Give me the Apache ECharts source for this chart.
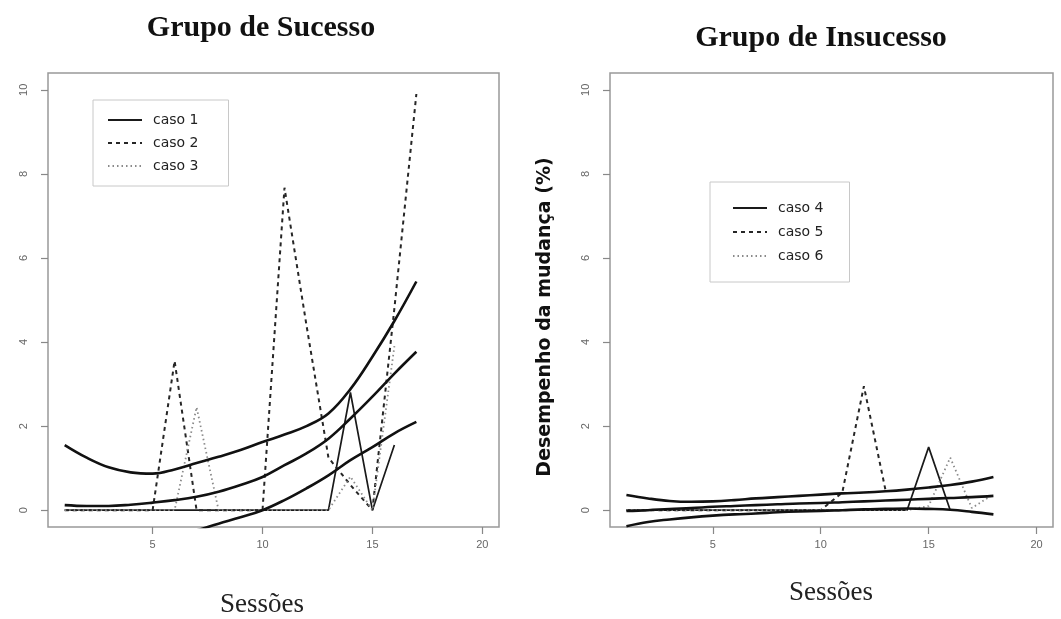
<!DOCTYPE html>
<html>
<head>
<meta charset="utf-8">
<script src="https://cdn.jsdelivr.net/npm/echarts@6/dist/echarts.min.js"></script>
<style>
  html, body { margin: 0; padding: 0; background: #fff; }
  #chart { width: 1061px; height: 619px; }
</style>
</head>
<body>
<div id="chart"></div>
<script>
// Sessions (x) for each group
const sessoesSucesso = [1, 2, 3, 4, 5, 6, 7, 8, 9, 10, 11, 12, 13, 14, 15, 16, 17];
const sessoesInsucesso = [1, 2, 3, 4, 5, 6, 7, 8, 9, 10, 11, 12, 13, 14, 15, 16, 17, 18];

// Grupo de Sucesso: observed cases
const caso1 = [0, 0, 0, 0, 0, 0, 0, 0, 0, 0, 0, 0, 0, 2.8, 0, 1.55];
const caso2 = [0, 0, 0, 0, 0, 3.55, 0, 0, 0, 0, 7.67, 4.4, 1.25, 0.6, 0, 4.8, 9.9];
const caso3 = [0, 0, 0, 0, 0, 0, 2.45, 0, 0, 0, 0, 0, 0, 0.8, 0, 3.9];

// Grupo de Sucesso: fitted trend and its band
const ajusteSupSucesso = [1.55, 1.25, 1.02, 0.9, 0.87, 0.97, 1.12, 1.27, 1.43, 1.62, 1.8, 2.0, 2.3, 2.88, 3.65, 4.5, 5.44];
const ajusteMedSucesso = [0.12, 0.1, 0.1, 0.13, 0.18, 0.24, 0.32, 0.44, 0.6, 0.79, 1.07, 1.35, 1.7, 2.18, 2.7, 3.25, 3.77];
const ajusteInfSucesso = [-1.25, -1.12, -1.0, -0.88, -0.75, -0.62, -0.48, -0.32, -0.17, 0.0, 0.24, 0.52, 0.83, 1.19, 1.5, 1.83, 2.1];

// Grupo de Insucesso: observed cases
const caso4 = [0, 0, 0, 0, 0, 0, 0, 0, 0, 0, 0, 0, 0, 0, 1.5, 0];
const caso5 = [0, 0, 0, 0, 0, 0, 0, 0, 0, 0, 0.42, 2.95, 0.48];
const caso6 = [0, 0, 0, 0, 0, 0, 0, 0, 0, 0, 0, 0, 0, 0, 0.1, 1.25, 0.05, 0.38];

// Grupo de Insucesso: fitted trend and its band
const ajusteSupInsucesso = [0.36, 0.28, 0.22, 0.2, 0.21, 0.24, 0.28, 0.31, 0.34, 0.37, 0.4, 0.42, 0.45, 0.49, 0.54, 0.6, 0.68, 0.79];
const ajusteMedInsucesso = [-0.02, 0.0, 0.03, 0.05, 0.08, 0.1, 0.12, 0.14, 0.16, 0.17, 0.19, 0.21, 0.23, 0.25, 0.27, 0.29, 0.31, 0.34];
const ajusteInfInsucesso = [-0.38, -0.28, -0.22, -0.17, -0.13, -0.1, -0.08, -0.05, -0.03, -0.02, 0.0, 0.02, 0.03, 0.04, 0.03, 0.01, -0.04, -0.1];

// Axis ticks
const xTicks = [5, 10, 15, 20];
const yTicks = [0, 2, 4, 6, 8, 10];

const pairs = (xs, ys) => ys.map((v, i) => [xs[i], v]);

const solidCase = { color: '#1a1a1a', width: 1.7, type: 'solid' };
const dashedCase = { color: '#262626', width: 2, type: [4, 4] };
const dottedCase = { color: '#8a8a8a', width: 1.8, type: [1.5, 3] };
const fitLine = { color: '#111', width: 2.6, type: 'solid' };

function caseSeries(name, idx, xs, ys, style) {
  return {
    name: name, type: 'line', xAxisIndex: idx, yAxisIndex: idx,
    data: pairs(xs, ys), symbol: 'none', showSymbol: false, lineStyle: style,
    itemStyle: { color: style.color }, clip: true, z: 3
  };
}
function fitSeries(name, idx, xs, ys) {
  return {
    name: name, type: 'line', xAxisIndex: idx, yAxisIndex: idx,
    data: pairs(xs, ys), symbol: 'none', smooth: 0.4, lineStyle: fitLine,
    itemStyle: { color: fitLine.color }, clip: true, z: 4
  };
}

function xAxisDef(idx) {
  return {
    type: 'value', gridIndex: idx, min: 0.24, max: 20.76,
    axisLine: { show: false, onZero: false },
    splitLine: { show: false },
    axisTick: { show: true, inside: false, length: 7, customValues: xTicks, lineStyle: { color: '#888', width: 1.2 } },
    axisLabel: { customValues: xTicks, margin: 12, color: '#666', fontSize: 11, fontFamily: 'Liberation Sans' }
  };
}
function yAxisDef(idx) {
  return {
    type: 'value', gridIndex: idx, min: -0.4, max: 10.4,
    axisLine: { show: false, onZero: false },
    splitLine: { show: false },
    axisTick: { show: true, inside: false, length: 7, customValues: yTicks, lineStyle: { color: '#888', width: 1.2 } },
    axisLabel: { customValues: yTicks, rotate: 90, margin: 19, color: '#666', fontSize: 11, fontFamily: 'Liberation Sans' }
  };
}

const legendText = { fontFamily: 'DejaVu Sans', fontSize: 14, color: '#222', padding: [0, 0, 0, 6] };

const chart = echarts.init(document.getElementById('chart'), null, { renderer: 'canvas' });
chart.setOption({
  backgroundColor: '#fff',
  animation: false,
  grid: [
    { left: 48, right: 562, top: 73, bottom: 92, show: true, borderColor: '#999', borderWidth: 1.5, backgroundColor: '#fff' },
    { left: 610, right: 8, top: 73, bottom: 92, show: true, borderColor: '#999', borderWidth: 1.5, backgroundColor: '#fff' }
  ],
  xAxis: [xAxisDef(0), xAxisDef(1)],
  yAxis: [yAxisDef(0), yAxisDef(1)],
  legend: [
    {
      data: ['caso 1', 'caso 2', 'caso 3'], orient: 'vertical', left: 93, top: 100,
      padding: [13, 30, 13, 14], itemWidth: 34, itemHeight: 14, itemGap: 9,
      borderColor: '#c8c8c8', borderWidth: 1, backgroundColor: '#fff',
      itemStyle: { opacity: 0 },
      textStyle: legendText, selectedMode: false
    },
    {
      data: ['caso 4', 'caso 5', 'caso 6'], orient: 'vertical', left: 710, top: 182,
      padding: [19, 26, 19, 22], itemWidth: 34, itemHeight: 14, itemGap: 10,
      borderColor: '#c8c8c8', borderWidth: 1, backgroundColor: '#fff',
      itemStyle: { opacity: 0 },
      textStyle: legendText, selectedMode: false
    }
  ],
  graphic: [
    { type: 'text', x: 261, y: 28, style: { text: 'Grupo de Sucesso', font: 'bold 30px "Liberation Serif"', fill: '#111', align: 'center', verticalAlign: 'middle' } },
    { type: 'text', x: 821, y: 38, style: { text: 'Grupo de Insucesso', font: 'bold 30px "Liberation Serif"', fill: '#111', align: 'center', verticalAlign: 'middle' } },
    { type: 'text', x: 262, y: 605, style: { text: 'Sessões', font: '27px "Liberation Serif"', fill: '#222', align: 'center', verticalAlign: 'middle' } },
    { type: 'text', x: 831, y: 593, style: { text: 'Sessões', font: '27px "Liberation Serif"', fill: '#222', align: 'center', verticalAlign: 'middle' } },
    { type: 'text', x: 545, y: 317, rotation: Math.PI / 2, style: { text: 'Desempenho da mudança (%)', font: 'bold 19px "DejaVu Sans"', fill: '#111', align: 'center', verticalAlign: 'middle' } }
  ],
  series: [
    caseSeries('caso 1', 0, sessoesSucesso, caso1, solidCase),
    caseSeries('caso 2', 0, sessoesSucesso, caso2, dashedCase),
    caseSeries('caso 3', 0, sessoesSucesso, caso3, dottedCase),
    fitSeries('ajuste sup. (sucesso)', 0, sessoesSucesso, ajusteSupSucesso),
    fitSeries('ajuste (sucesso)', 0, sessoesSucesso, ajusteMedSucesso),
    fitSeries('ajuste inf. (sucesso)', 0, sessoesSucesso, ajusteInfSucesso),
    caseSeries('caso 4', 1, sessoesInsucesso, caso4, solidCase),
    caseSeries('caso 5', 1, sessoesInsucesso, caso5, dashedCase),
    caseSeries('caso 6', 1, sessoesInsucesso, caso6, dottedCase),
    fitSeries('ajuste sup. (insucesso)', 1, sessoesInsucesso, ajusteSupInsucesso),
    fitSeries('ajuste (insucesso)', 1, sessoesInsucesso, ajusteMedInsucesso),
    fitSeries('ajuste inf. (insucesso)', 1, sessoesInsucesso, ajusteInfInsucesso)
  ]
});
</script>
</body>
</html>
